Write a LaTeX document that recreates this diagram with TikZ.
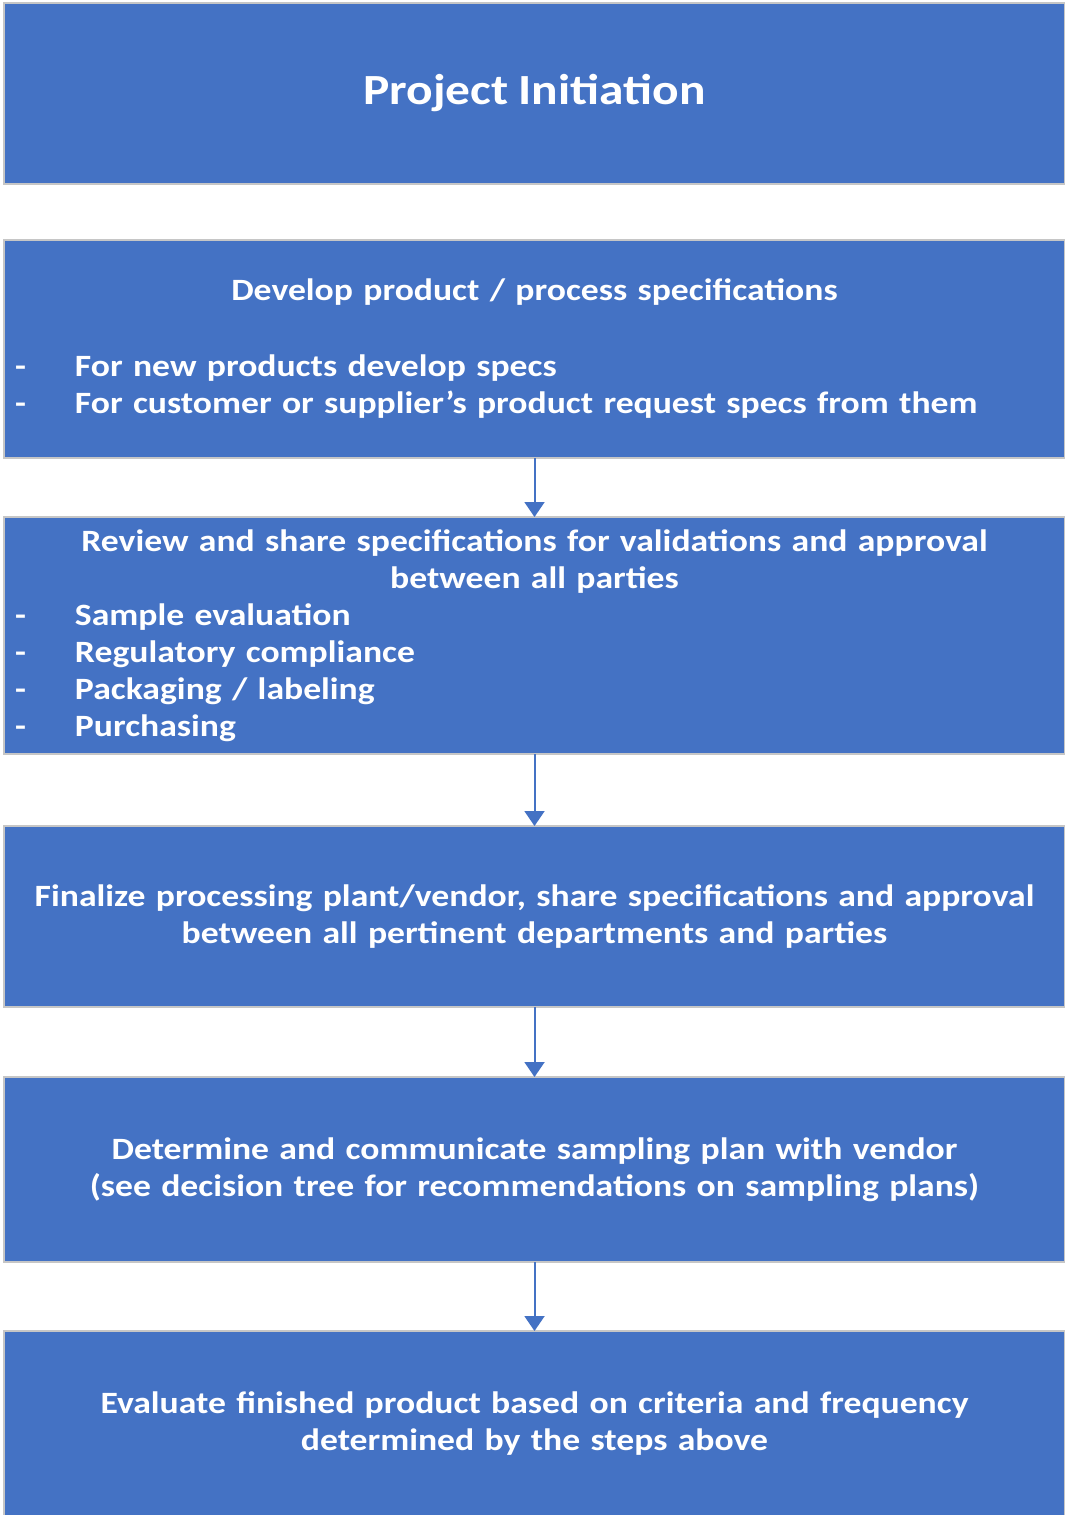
\documentclass[tikz,border=0pt]{standalone}
\usepackage{fontspec}
\setmainfont{Carlito}[FakeStretch=1.15]
\usetikzlibrary{positioning, arrows.meta}
\definecolor{stepblue}{HTML}{4472C4}
\newcommand{\dashitem}[1]{\makebox[1061bp][l]{\makebox[71bp][l]{\hspace{11bp}-}#1}}
\tikzstyle{stepbox} = [draw=gray!45, line width=1.5bp, fill=stepblue, text=white, rectangle, minimum width=1061bp, text width=1061bp, inner xsep=0pt, inner ysep=4bp, outer sep=0pt, align=center, font=\bfseries\fontsize{31bp}{37bp}\selectfont]
\tikzstyle{flowarrow} = [draw=stepblue, line width=2bp, -{Triangle[width=20bp,length=15bp]}]

\begin{document}
\begin{tikzpicture}
	\useasboundingbox (0,0) rectangle (1065bp,-1515bp);
	\node [stepbox, minimum height=181bp, anchor=north west] (init) at (4bp,-3bp) {%
		{\fontsize{43bp}{48bp}\selectfont Project Initiation}};
	\node [stepbox, minimum height=218bp, below=56bp of init] (specs) {%
		Develop product / process specifications\\[39bp]
		\dashitem{For new products develop specs}\\
		\dashitem{For customer or supplier’s product request specs from them}};
	\node [stepbox, minimum height=237bp, below=59bp of specs] (review) {%
		Review and share specifications for validations and approval\\
		between all parties\\
		\dashitem{Sample evaluation}\\
		\dashitem{Regulatory compliance}\\
		\dashitem{Packaging / labeling}\\
		\dashitem{Purchasing}};
	\node [stepbox, minimum height=181bp, below=72bp of review] (vendor) {%
		Finalize processing plant/vendor, share specifications and approval\\
		between all pertinent departments and parties};
	\node [stepbox, minimum height=185bp, below=70bp of vendor] (sampling) {%
		Determine and communicate sampling plan with vendor\\
		(see decision tree for recommendations on sampling plans)};
	\node [stepbox, minimum height=186bp, below=69bp of sampling] (evaluate) {%
		Evaluate finished product based on criteria and frequency\\
		determined by the steps above};
	\draw [flowarrow] (specs) -- (review);
	\draw [flowarrow] (review) -- (vendor);
	\draw [flowarrow] (vendor) -- (sampling);
	\draw [flowarrow] (sampling) -- (evaluate);
\end{tikzpicture}
\end{document}
